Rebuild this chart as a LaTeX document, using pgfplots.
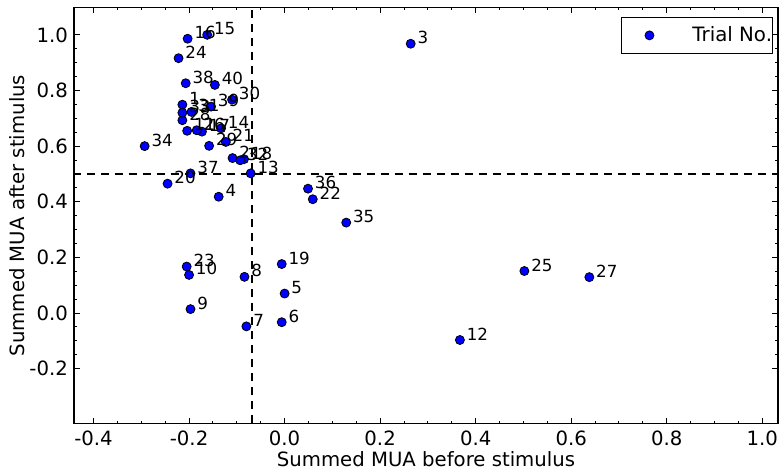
\documentclass[border=0pt]{standalone}
\usepackage{fontspec}
\setmainfont{DejaVu Sans}
\usepackage{pgfplots}
\usepackage{pgfplotstable}
\pgfplotsset{compat=1.18}
\pgfplotstableread{
label x y
1 -0.214 0.749
2 -0.109 0.557
3 0.264 0.968
4 -0.138 0.418
5 0.000 0.070
6 -0.006 -0.033
7 -0.080 -0.048
8 -0.084 0.130
9 -0.197 0.014
10 -0.200 0.137
11 -0.204 0.655
12 0.367 -0.097
13 -0.071 0.502
14 -0.133 0.664
15 -0.162 1.000
16 -0.203 0.986
17 -0.173 0.652
18 -0.085 0.553
19 -0.006 0.176
20 -0.245 0.465
21 -0.123 0.615
22 0.059 0.409
23 -0.205 0.167
24 -0.222 0.916
25 0.502 0.151
26 -0.184 0.657
27 0.638 0.129
28 -0.214 0.693
29 -0.158 0.601
30 -0.110 0.767
31 -0.195 0.723
32 -0.093 0.549
33 -0.214 0.720
34 -0.293 0.600
35 0.129 0.325
36 0.049 0.447
37 -0.197 0.502
38 -0.207 0.826
39 -0.154 0.742
40 -0.146 0.820
}\trials
\begin{document}
\begin{tikzpicture}
\begin{axis}[
  scale only axis, width=352.25pt, height=208.35pt,
  xmin=-0.441, xmax=1.033, ymin=-0.398, ymax=1.099,
  xtick={-0.4,-0.2,0,0.2,0.4,0.6,0.8,1.0},
  xticklabels={-0.4,-0.2,0.0,0.2,0.4,0.6,0.8,1.0},
  ytick={-0.2,0,0.2,0.4,0.6,0.8,1.0},
  yticklabels={-0.2,0.0,0.2,0.4,0.6,0.8,1.0},
  minor tick num=3,
  tick align=inside,
  major tick length=2.8pt, minor tick length=1.4pt,
  every tick/.style={black, line width=0.5pt},
  axis line style={line width=0.7pt, black},
  tick label style={font=\fontsize{9.85}{11}\selectfont, inner sep=0pt},
  xticklabel style={anchor=north, yshift=-3.25pt},
  yticklabel style={anchor=east, xshift=-2.85pt},
  xlabel={Summed MUA before stimulus},
  ylabel={Summed MUA after stimulus},
  label style={font=\fontsize{9.85}{11}\selectfont, inner sep=0pt},
  xlabel style={at={(axis description cs:0.5,-0.1032)}, anchor=base},
  ylabel style={at={(axis description cs:-0.06955,0.5)}, anchor=south},
  legend style={at={(axis description cs:1,1)}, anchor=north east,
    xshift=-2.75pt, yshift=-5pt, draw=black, line width=0.5pt,
    inner xsep=0pt, inner ysep=4.3pt,
    font=\fontsize{9.9}{11}\selectfont,
    nodes={inner sep=0pt},
    /tikz/every even column/.append style={column sep=5.5pt}},
  legend cell align=left,
]
\addplot[forget plot, black, line width=0.75pt, dash pattern=on 4pt off 3pt] coordinates {(-0.068,-1) (-0.068,2)};
\addplot[forget plot, black, line width=0.75pt, dash pattern=on 4pt off 3pt] coordinates {(-1,0.5) (2,0.5)};
\addplot[only marks, mark=*, mark size=2.25pt,
  mark options={fill=blue, draw=black, line width=0.4pt},
  legend image code/.code={\path[draw=none] (-14pt,0pt) -- (21.5pt,0pt); \draw[##1,/tikz/only marks] plot coordinates {(0pt,0pt)};}]
  table[x=x,y=y]{\trials};
\addlegendentry{Trial No.}
\addplot[forget plot, only marks, mark=none, nodes near coords, point meta=explicit symbolic,
  nodes near coords style={anchor=base west, inner sep=0pt, xshift=3.25pt,
  font=\fontsize{8.35}{10}\selectfont, text=black}]
  table[x=x,y=y,meta=label]{\trials};
\end{axis}
\path ([xshift=-37pt, yshift=-24.5pt]current axis.south west) rectangle ([xshift=0.5pt, yshift=3.65pt]current axis.north east);
\end{tikzpicture}
\end{document}
